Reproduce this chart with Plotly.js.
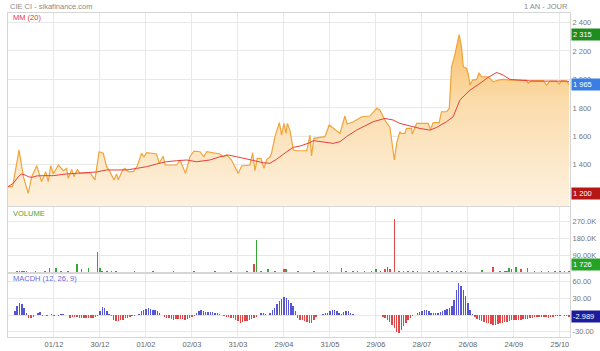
<!DOCTYPE html>
<html><head><meta charset="utf-8">
<script src="https://cdn.plot.ly/plotly-3.0.1.min.js"></script>
<style>html,body{margin:0;padding:0;background:#fff}#chart{width:600px;height:351px}</style>
</head><body><div id="chart"></div>
<script>
// ---- DATA (x = trading-day index) ----
const priceDay = [0,2,4.8,6.7,8.8,10.3,12.5,14.6,16.4,17.5,18.6,19.7,21.9,24.1,25.5,26.2,27.7,28.7,30.1,31.3,35.7,37.8,39.6,41.4,42.9,44.3,46.1,47.2,47.9,49.9,50.9,52.3,54.5,56.2,58.1,59.1,60.3,64.6,65.8,67.5,68.3,73.3,74.8,77.2,79.1,80.9,83.5,85.2,86.4,92.2,93.6,95.1,97.2,98.7,100.1,101.6,105.2,106.4,107.4,108.4,110,111.3,112.5,113.9,114.6,116.1,118,119,120,120.9,121.5,122.6,124.1,125.5,129.9,131.3,132,133,137.8,139.7,141.5,144.4,146.5,147.5,150.2,153.8,157.4,160.3,161.7,163.9,166.1,168,169,170.4,170.9,172.6,173.3,175.5,175.8,177.7,182.7,183.8,184.9,187.5,188.5,190.7,191.9,192.9,194.1,195.1,196.2,197.2,198,199.4,200.1,200.9,202,203.8,204.8,205.9,208.8,211,213.2,215.4,218.3,225.5,226.2,227.7,232.8,234.2,235.7,238.5,239.7,240.7,242.9,244];
const priceClose = [1247,1247,1504,1317,1200,1317,1394,1282,1352,1282,1394,1336,1399,1359,1375,1305,1368,1317,1368,1340,1345,1294,1492,1481,1387,1352,1294,1336,1294,1364,1375,1352,1352,1392,1481,1457,1485,1476,1411,1462,1399,1399,1434,1340,1457,1497,1492,1457,1492,1476,1457,1469,1434,1387,1340,1392,1399,1485,1359,1446,1446,1375,1439,1453,1481,1598,1696,1609,1691,1621,1691,1644,1504,1499,1499,1609,1462,1586,1598,1680,1656,1621,1743,1687,1703,1738,1743,1797,1785,1715,1663,1434,1551,1633,1621,1621,1656,1656,1616,1691,1691,1649,1696,1696,1773,1773,1796,2089,2159,2241,2315,2229,2089,2077,2042,1960,1995,2000,2047,2019,2019,1984,1995,2000,1995,1995,1972,1991,1991,1960,1988,1988,1967,1991,1988,1965];

const maDay = [0,2.3,4.5,5.9,7.4,8.8,10.3,12.5,15.4,19.7,25.5,32.8,38.6,42.9,51.6,55.9,60.3,64.6,69,73.3,77.7,82,87.8,92.2,95.8,99.4,105.2,111,113.9,116.8,121.2,124.1,127,131.3,132.8,137.1,141.4,144.4,147.2,151.6,155.9,158.8,163.9,167.5,170.4,174.8,179.1,183.5,186.4,190.7,193.6,196.5,199.4,200.9,205.2,208.8,212.5,215.4,218.3,224,228.4,242.9,244];
const maValue = [1247,1270,1317,1336,1329,1317,1312,1322,1324,1324,1336,1345,1350,1364,1364,1375,1387,1406,1422,1429,1434,1422,1434,1457,1469,1457,1434,1415,1411,1439,1492,1523,1532,1556,1570,1563,1551,1563,1598,1644,1680,1703,1726,1715,1691,1673,1656,1644,1663,1703,1738,1855,1897,1925,1972,2014,2049,2030,2000,1995,1988,1988,1984];

const volDay = [4,5,6,7,8,12,16,18,21,23,26,30,32,35,39,40,41,43,45,47,55,63,72,81,90,97,104,107,108,110,113,116,120,121,126,133,139,145,147,150,152,155,158,160,162,164,165,166,168,170,172,174,176,178,183,185,187,191,193,195,197,199,206,211,214,216,217,218,219,221,223,226,229,232,235,238,240,242,244];
const volValue = [4000,3000,5000,3000,2500,2000,4000,21600,18000,3000,2500,41000,12600,18000,104000,20000,4000,3500,3000,4000,2000,2000,2000,2500,2000,2500,3000,41000,171000,4000,14000,3000,12600,14000,2000,3000,2500,18000,4000,4000,3500,4000,3500,12600,4000,14000,23000,12600,283000,5000,4000,3000,4000,3500,4000,3500,4000,3000,4000,3500,3000,3000,9000,23000,5000,6000,5000,21600,16000,27000,12600,18000,3000,3000,3500,3000,3500,4000,1726];
const volUp = [1,0,0,1,0,1,1,1,1,1,1,1,1,1,1,1,0,0,0,0,0,1,0,1,0,0,0,0,1,1,1,0,0,1,0,1,1,1,1,1,0,1,1,1,0,0,0,0,0,1,1,0,1,0,1,1,1,0,0,0,0,0,1,0,1,0,1,1,1,1,0,0,0,0,0,0,0,1,1];

const macdFirstDay = 3;
const macdValue = [
 7.2,16,22,20,13,4,-5,-6,-3,0.5,
 4,5,-2,0.5,-2,1,2,-2,1,-1,
 2.5,1.5,0.5,0.3,-5,-4,-4,-4,-5,-5,
 -5,-5,-5,-5,-6,-4,-1,7,14,12,
 7,2.5,-2,-8,-10,-11,-9,-8,-6,-5,
 -4,-2.5,-2,1,2.5,7,10,11,12,11,
 10,9,7,4,1,-4,-5,-5.5,-6.5,-8,
 -6.5,-6.5,-6.5,-6.5,-8,-6.5,-5.5,-4,-1,3,
 6.5,9,8,5.5,5.5,5,5,4,3,2.5,
 0.6,-2,-3,-4,-5,-6,-9,-11,-14,-12.5,
 -11.5,-10,-9,-6.5,-5,-3,1,3,4,2.5,
 1,4,9,13,20,25,29,33,31,27,
 22,16,7,-5,-8,-9,-11,-12.5,-15,-14,
 -8,-3,0.5,1,2.5,3,4,6.5,8.5,9,
 7,4,2.5,5.5,8,7,4,2.5,1,0.6,
 -0.5,0.6,0.6,1,0.6,0.3,0.6,0.6,0.6,0.2,
 -3,-6,-9,-12.5,-17,-23,-30,-32,-26,-20,
 -14,-9,-5,-2,1,3,5.5,7,8.5,9,
 7,4,3.5,3.5,4,5.5,8,10,11,13,
 16,28,46,57,53,45,34,22,10,2.5,
 -3,-6.5,-9,-11,-12.5,-14,-15,-15.5,-17,-17.5,
 -16,-15,-14,-12.5,-12,-11,-9.5,-9,-8.5,-8,
 -8,-7,-6.5,-6.5,-6,-5,-4,-3.5,-3,-3.5,
 -3,-4,-5,-3.5,-3,-2.5,-2.5,-2,-0.6,-2,
 -2,-2.989];

const dateTickDay = [20,40,60,80,100,120,140,160,180,200,220,240];
const dateTickText = ['01/12','30/12','01/02','02/03','31/03','29/04','31/05','29/06','28/07','26/08','24/09','25/10'];
const priceTickVal = [1200,1400,1600,1800,2000,2200,2400];
const priceTickText = ['1 200','1 400','1 600','1 800','2 000','2 200','2 400'];
const volTickVal = [90000,180000,270000];
const volTickText = ['90.00K','180.0K','270.0K'];
const macdTickVal = [-30,0,30,60];
const macdTickText = ['-30.00','','30.00','60.00'];

const lastPrice = 1965, maxPrice = 2315, minPrice = 1200;
const lastVolume = 1726, lastMacd = -2.989;

// ---- CHART ----
const FONT = 'Liberation Sans, Arial, sans-serif';
const macdDay = macdValue.map((v, k) => macdFirstDay + k);

const traces = [
  {x: priceDay, y: priceClose, type: 'scatter', mode: 'lines', xaxis: 'x', yaxis: 'y',
   line: {color: '#f0a43a', width: 1.2}, fill: 'tozeroy',
   fillgradient: {type: 'vertical', start: 1110, stop: 2320,
     colorscale: [[0, '#fdf1df'], [0.6, '#fbdcac'], [1, '#f8bf66']]},
   hoverinfo: 'skip'},
  {x: maDay, y: maValue, type: 'scatter', mode: 'lines', xaxis: 'x', yaxis: 'y',
   line: {color: '#e8403a', width: 1}, hoverinfo: 'skip'},
  {x: volDay, y: volValue, type: 'bar', xaxis: 'x', yaxis: 'y2', width: 0.7,
   marker: {color: volUp.map(u => u ? '#35a835' : '#e24848'), line: {width: 0}}, hoverinfo: 'skip'},
  {x: macdDay, y: macdValue, type: 'bar', xaxis: 'x', yaxis: 'y3', width: 0.62,
   marker: {color: macdValue.map(v => v >= 0 ? '#5656d4' : '#e04646'), line: {width: 0}}, hoverinfo: 'skip'}
];

const gridC = '#e8e8e8', lineC = '#d6d6d6';
const yBase = {side: 'right', anchor: 'x', showgrid: true, gridcolor: gridC, gridwidth: 1,
  showline: true, linecolor: lineC, mirror: true, ticks: '', zeroline: false, fixedrange: true,
  tickfont: {family: FONT, size: 7.5, color: '#777'}};

const boxes = [
  {yref: 'y', y: maxPrice, text: '2 315', bg: '#1f8c1f', anchor: 'middle'},
  {yref: 'y', y: lastPrice, text: '1 965', bg: '#3a7ee4', anchor: 'middle'},
  {yref: 'y', y: minPrice, text: '1 200', bg: '#b51616', anchor: 'middle'},
  {yref: 'y2', y: lastVolume, text: '1 726', bg: '#26a326', anchor: 'bottom'},
  {yref: 'y3', y: lastMacd, text: '-2.989', bg: '#1c1c9c', anchor: 'middle'}
].map(b => ({xref: 'paper', x: 1, xanchor: 'left', xshift: 1, yref: b.yref, y: b.y, yanchor: b.anchor,
  text: b.text, showarrow: false, bgcolor: b.bg, borderpad: 1, width: 27, align: 'left',
  font: {family: FONT, size: 7.5, color: '#ffffff'}}));

const labels = [
  {xref: 'paper', yref: 'paper', x: 0, y: 1, xanchor: 'left', yanchor: 'middle', yshift: 7,
   text: 'CIE CI - sikafinance.com', font: {family: FONT, size: 7.5, color: '#8a8a8a'}},
  {xref: 'paper', yref: 'paper', x: 1, y: 1, xanchor: 'right', yanchor: 'middle', yshift: 7,
   text: '1 AN - JOUR', font: {family: FONT, size: 7.5, color: '#8a8a8a'}},
  {xref: 'paper', yref: 'y domain', x: 0, y: 1, xanchor: 'left', yanchor: 'middle', xshift: 3, yshift: -4.5,
   text: 'MM (20)', font: {family: FONT, size: 7.5, color: '#e5393a'}},
  {xref: 'paper', yref: 'y2 domain', x: 0, y: 1, xanchor: 'left', yanchor: 'middle', xshift: 3, yshift: -6.5,
   text: 'VOLUME', font: {family: FONT, size: 7.5, color: '#3aa83a'}},
  {xref: 'paper', yref: 'y3 domain', x: 0, y: 1, xanchor: 'left', yanchor: 'middle', xshift: 3, yshift: -4.5,
   text: 'MACDH (12, 26, 9)', font: {family: FONT, size: 7.5, color: '#6a6ad0'}}
].map(a => Object.assign({showarrow: false}, a));

const layout = {
  width: 600, height: 351, margin: {l: 8, r: 30, t: 13, b: 14},
  paper_bgcolor: '#ffffff', plot_bgcolor: '#ffffff', showlegend: false, bargap: 0,
  font: {family: FONT, size: 7.5, color: '#777'},
  xaxis: {domain: [0, 1], anchor: 'y3', range: [0, 244.4], tickmode: 'array',
    tickvals: dateTickDay, ticktext: dateTickText, showgrid: true, gridcolor: gridC, gridwidth: 1,
    showline: true, linecolor: lineC, mirror: 'all', ticks: '', zeroline: false, fixedrange: true,
    tickfont: {family: FONT, size: 7.5, color: '#666'}},
  yaxis: Object.assign({}, yBase, {domain: [0.4043, 1], range: [1110.8, 2466.7],
    tickmode: 'array', tickvals: priceTickVal, ticktext: priceTickText}),
  yaxis2: Object.assign({}, yBase, {domain: [0.2006, 0.4012], range: [-1600, 349000],
    tickmode: 'array', tickvals: volTickVal, ticktext: volTickText}),
  yaxis3: Object.assign({}, yBase, {domain: [0, 0.1944], range: [-39.5, 73.9],
    tickmode: 'array', tickvals: macdTickVal, ticktext: macdTickText}),
  annotations: labels.concat(boxes)
};

Plotly.newPlot('chart', traces, layout, {displayModeBar: false, staticPlot: true});
</script>
</body></html>
